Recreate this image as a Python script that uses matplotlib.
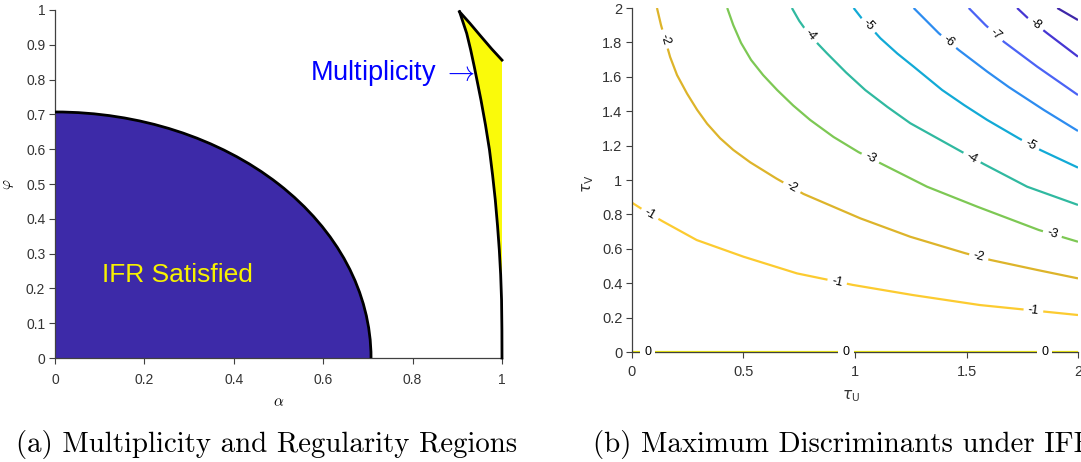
import numpy as np
import matplotlib
matplotlib.use("Agg")
import matplotlib.pyplot as plt
from matplotlib.patches import Wedge, Arc, Polygon
from matplotlib.colors import ListedColormap, Normalize

plt.rcParams['font.family'] = ['Liberation Sans', 'DejaVu Sans']
plt.rcParams['mathtext.fontset'] = 'cm'

# ---- panel (a): regions ----
ifr_radius = 0.707

# left (lower) boundary of multiplicity region, alpha vs phi
mult_left_alpha = [0.905, 0.921, 0.930, 0.938, 0.953, 0.963, 0.972, 0.979, 0.985,
                   0.990, 0.994, 0.997, 0.999, 0.9998, 1.0]
mult_left_phi = [0.995, 0.933, 0.885, 0.837, 0.741, 0.67, 0.598, 0.525, 0.454,
                 0.38, 0.31, 0.24, 0.167, 0.08, 0.0]
# upper boundary of multiplicity region
mult_top_alpha = [0.905, 0.928, 0.951, 0.977, 1.0]
mult_top_phi = [0.995, 0.962, 0.927, 0.888, 0.856]

# ---- panel (b): contour lines of max discriminant ----
levels = [0, -1, -2, -3, -4, -5, -6, -7, -8, -9]

tu_0 = [0.0, 2.0]
tv_0 = [0.0, 0.0]
tu_1 = [0.0, 0.07, 0.14, 0.29, 0.50, 0.74, 0.99, 1.26, 1.56, 2.0]
tv_1 = [0.868, 0.81, 0.758, 0.651, 0.554, 0.457, 0.39, 0.331, 0.273, 0.215]
tu_2 = [0.112, 0.130, 0.171, 0.202, 0.247, 0.292, 0.337, 0.395, 0.454, 0.530, 0.647,
        0.769, 1.024, 1.248, 1.495, 1.608, 1.817, 2.0]
tv_2 = [2.0, 1.901, 1.715, 1.610, 1.502, 1.408, 1.327, 1.243, 1.175, 1.103, 1.009,
        0.919, 0.777, 0.67, 0.574, 0.535, 0.477, 0.428]
tu_3 = [0.427, 0.454, 0.489, 0.534, 0.588, 0.651, 0.723, 0.799, 0.904, 1.016, 1.121,
        1.323, 1.548, 1.825, 2.0]
tv_3 = [2.0, 1.901, 1.797, 1.698, 1.610, 1.523, 1.433, 1.349, 1.25, 1.162, 1.093,
        0.961, 0.845, 0.709, 0.641]
tu_4 = [0.717, 0.75, 0.786, 0.835, 0.874, 0.96, 1.046, 1.145, 1.248, 1.473, 1.577,
        1.772, 2.0]
tv_4 = [2.0, 1.925, 1.86, 1.79, 1.737, 1.625, 1.523, 1.425, 1.33, 1.168, 1.093,
        0.961, 0.855]
tu_5 = [0.994, 1.03, 1.061, 1.114, 1.19, 1.263, 1.391, 1.49, 1.593, 1.735, 1.832, 2.0]
tv_5 = [2.0, 1.94, 1.90, 1.824, 1.735, 1.659, 1.523, 1.435, 1.349, 1.242, 1.174, 1.072]
tu_6 = [1.263, 1.376, 1.465, 1.593, 1.69, 1.847, 2.0]
tv_6 = [2.0, 1.853, 1.756, 1.63, 1.54, 1.407, 1.285]
tu_7 = [1.51, 1.585, 1.667, 1.817, 2.0]
tv_7 = [2.0, 1.901, 1.804, 1.659, 1.494]
tu_8 = [1.727, 1.772, 1.862, 2.0]
tv_8 = [2.0, 1.945, 1.853, 1.717]
tu_9 = [1.907, 2.0]
tv_9 = [2.0, 1.93]

contour_u = [tu_0, tu_1, tu_2, tu_3, tu_4, tu_5, tu_6, tu_7, tu_8, tu_9]
contour_v = [tv_0, tv_1, tv_2, tv_3, tv_4, tv_5, tv_6, tv_7, tv_8, tv_9]

# where the inline labels sit (tau_U)
label_spots = [[0.07, 0.96, 1.85], [0.08, 0.92, 1.80], [0.148, 0.717, 1.555],
               [1.069, 1.885], [0.80, 1.525], [1.061, 1.787], [1.42], [1.63], [1.81], []]

parula = ListedColormap(['#3E26A8', '#4636D3', '#4B63F5', '#2D8CF0', '#12AAD6',
                         '#30B9A0', '#7DC854', '#DDB42A', '#FCCB30', '#F2EE0E'])
norm = Normalize(vmin=-9.5, vmax=0.5)

axis_col = '#404040'
tick_col = '#333333'

fig = plt.figure(figsize=(10.81, 4.62), dpi=100)


def style_axes(ax, size, xpad, ypad):
    for s in ['top', 'right']:
        ax.spines[s].set_visible(False)
    for s in ['left', 'bottom']:
        ax.spines[s].set_color(axis_col)
        ax.spines[s].set_linewidth(0.9)
    ax.tick_params(direction='out', length=4, width=0.8, color=axis_col,
                   labelcolor=tick_col, labelsize=size)
    ax.tick_params(axis='x', pad=xpad)
    ax.tick_params(axis='y', pad=ypad)


# ---------- (a) ----------
ax1 = fig.add_axes([55 / 1081, 104 / 462, 447 / 1081, 348 / 462])
ax1.set_xlim(0, 1)
ax1.set_ylim(0, 1)
style_axes(ax1, 10, 6.5, 3)
ax1.set_xticks(np.arange(0, 1.01, 0.2))
ax1.set_xticklabels(['0', '0.2', '0.4', '0.6', '0.8', '1'])
ax1.set_yticks(np.arange(0, 1.01, 0.1))
ax1.set_yticklabels(['0'] + ['%.1f' % v for v in np.arange(0.1, 0.95, 0.1)] + ['1'])

ax1.add_patch(Wedge((0, 0), ifr_radius, 0, 90, facecolor='#3D2AA8', edgecolor='none', zorder=1))
ax1.add_patch(Arc((0, 0), 2 * ifr_radius, 2 * ifr_radius, theta1=0, theta2=90,
                  color='black', lw=2, zorder=3))

poly_x = mult_left_alpha + [1.0] + mult_top_alpha[::-1]
poly_y = mult_left_phi + [mult_top_phi[-1]] + mult_top_phi[::-1]
ax1.add_patch(Polygon(np.column_stack([poly_x, poly_y]), closed=True,
                      facecolor='#FAFA0A', edgecolor='none', zorder=1))
ax1.plot(mult_left_alpha, mult_left_phi, color='black', lw=2, zorder=3, clip_on=False,
         solid_joinstyle='round')
ax1.plot(mult_top_alpha, mult_top_phi, color='black', lw=2, zorder=3, clip_on=False,
         solid_joinstyle='round')

ax1.text(0.57, 0.80, r'Multiplicity $\rightarrow$', color='#0000FF', fontsize=19.5,
         va='baseline', ha='left', math_fontfamily='cm')
ax1.text(0.105, 0.217, 'IFR Satisfied', color='#F7F200', fontsize=19, va='baseline')

ax1.set_xlabel(r'$\alpha$', fontsize=11)
ax1.xaxis.set_label_coords(0.5, -0.108)
ax1.set_ylabel(r'$\varphi$', fontsize=11)
ax1.yaxis.set_label_coords(-0.087, 0.5)

# ---------- (b) ----------
ax2 = fig.add_axes([632 / 1081, 110 / 462, 446 / 1081, 344 / 462])
ax2.set_xlim(0, 2)
ax2.set_ylim(0, 2)
style_axes(ax2, 10.5, 5.5, 3)
ax2.set_xticks([0, 0.5, 1, 1.5, 2])
ax2.set_xticklabels(['0', '0.5', '1', '1.5', '2'])
ax2.set_yticks(np.arange(0, 2.01, 0.2))
ax2.set_yticklabels(['0'] + ['%.1f' % v for v in np.arange(0.2, 0.95, 0.2)] + ['1'] +
                    ['%.1f' % v for v in np.arange(1.2, 1.95, 0.2)] + ['2'])

for lev, u, v, spots in zip(levels, contour_u, contour_v, label_spots):
    col = parula(norm(lev))
    ax2.plot(u, v, color=col, lw=1.6, zorder=2, clip_on=(lev != 0),
             solid_capstyle='butt', solid_joinstyle='round')
    for s in spots:
        y0 = np.interp(s, u, v)
        a = ax2.transData.transform((s - 0.01, np.interp(s - 0.01, u, v)))
        b = ax2.transData.transform((s + 0.01, np.interp(s + 0.01, u, v)))
        ang = np.degrees(np.arctan2(b[1] - a[1], b[0] - a[0]))
        ax2.text(s, y0, '%d' % lev if lev != 0 else '0', fontsize=9, rotation=ang,
                 rotation_mode='anchor', ha='center', va='center', zorder=4,
                 clip_on=False,
                 bbox=dict(boxstyle='square,pad=0.35', fc='white', ec='none'))

ax2.set_xlabel(r'$\tau_{\rm U}$', fontsize=11, color=tick_col, math_fontfamily='dejavusans')
ax2.xaxis.set_label_coords(0.49, -0.105)
ax2.set_ylabel(r'$\tau_{\rm V}$', fontsize=11, color=tick_col, math_fontfamily='dejavusans')
ax2.yaxis.set_label_coords(-0.08, 0.49)

# ---------- captions ----------
fig.text(16 / 1081, 10.3 / 462, '(a) Multiplicity and Regularity Regions',
         family='cmr10', fontsize=20.8, va='baseline', ha='left')
fig.text(593 / 1081, 10.3 / 462, '(b) Maximum Discriminants under IFR',
         family='cmr10', fontsize=20.8, va='baseline', ha='left')

fig.savefig('out.png', dpi=100)
